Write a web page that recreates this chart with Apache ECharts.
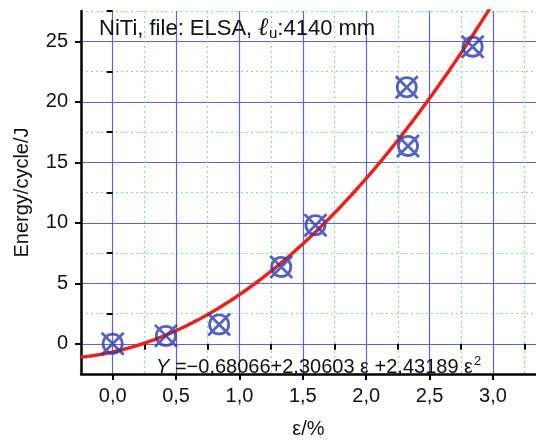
<!DOCTYPE html>
<html>
<head>
<meta charset="utf-8">
<script src="https://cdn.jsdelivr.net/npm/echarts@6/dist/echarts.min.js"></script>
<style>
  html, body { margin: 0; padding: 0; background: #fff; }
  #chart { width: 536px; height: 444px; }
</style>
</head>
<body>
<div id="chart"></div>
<script>
// Measured points: strain (%) and dissipated energy per cycle (J)
const strain = [0.0, 0.42, 0.84, 1.33, 1.60, 2.32, 2.33, 2.84];
const energy = [0.0, 0.65, 1.6, 6.35, 9.8, 21.2, 16.35, 24.55];

// Quadratic fit coefficients: Y = c0 + c1*e + c2*e^2
const fitCoef = [-0.68066, 2.30603, 2.43189];

// Axis ticks
const xMajor = [0, 0.5, 1.0, 1.5, 2.0, 2.5, 3.0];
const xMinor = [0.25, 0.75, 1.25, 1.75, 2.25, 2.75, 3.25];
const yMajor = [0, 5, 10, 15, 20, 25];
const yMinor = [2.5, 7.5, 12.5, 17.5, 22.5, 27.5];

const X_MIN = -0.25, X_MAX = 3.34, Y_MIN = -2.5, Y_MAX = 27.5;

// Fit curve sampled along the strain axis
const fitLine = [];
for (let i = 0; i <= 130; i++) {
  const e = X_MIN + i * 0.025;
  fitLine.push([e, fitCoef[0] + fitCoef[1] * e + fitCoef[2] * e * e]);
}

const FONT = '"Liberation Sans", Arial, sans-serif';
const BLUE = '#2b3bae';
const decComma = v => v.toFixed(1).replace('.', ',');

// Circle with a cross through it
const crossCircle = 'path://M0,-10A10,10,0,1,1,0,10A10,10,0,1,1,0,-10Z' +
  'M-11.5,-11.5L11.5,11.5M11.5,-11.5L-11.5,11.5';

const chart = echarts.init(document.getElementById('chart'), null, { renderer: 'canvas' });

chart.setOption({
  animation: false,
  backgroundColor: '#ffffff',
  grid: { left: 81, right: 0, top: 11, bottom: 65, containLabel: false },
  title: [
    {
      left: 94, top: 11,
      text: 'NiTi, file: ELSA, {l|ℓ}{s|u}:4140 mm',
      textStyle: {
        fontFamily: FONT, fontSize: 22, fontWeight: 'normal', color: '#111',
        rich: {
          l: { fontFamily: '"DejaVu Serif", serif', fontStyle: 'italic', fontWeight: 'bold', fontSize: 25, color: '#111' },
          s: { fontFamily: FONT, fontSize: 15, color: '#111', verticalAlign: 'bottom', padding: [9, 0, 0, 0] }
        }
      }
    },
    {
      left: 151, top: 350,
      text: '{i|Y} =−0,68066+2,30603 ε +2,43189 ε{p|2}',
      textStyle: {
        fontFamily: FONT, fontSize: 20, fontWeight: 'normal', color: '#111',
        rich: {
          i: { fontFamily: FONT, fontStyle: 'italic', fontSize: 20, color: '#111' },
          p: { fontFamily: FONT, fontSize: 13, color: '#111', verticalAlign: 'top', padding: [0, 0, 11, 1] }
        }
      }
    }
  ],
  xAxis: [
    {
      type: 'value', position: 'bottom', min: X_MIN, max: X_MAX,
      name: 'ε/%', nameLocation: 'middle', nameGap: 45,
      nameTextStyle: { fontFamily: FONT, fontSize: 20, color: '#111' },
      axisLine: { show: true, onZero: false, lineStyle: { color: '#000', width: 2.5 } },
      axisTick: { show: true, inside: false, length: 6, customValues: xMajor, lineStyle: { color: '#000', width: 2 } },
      axisLabel: { customValues: xMajor, formatter: decComma, margin: 12, fontFamily: FONT, fontSize: 20, color: '#111' },
      splitLine: { show: true, lineStyle: { color: '#5f63d8', width: 1.2, type: 'solid' } }
    },
    {
      type: 'value', position: 'bottom', min: X_MIN, max: X_MAX,
      axisLine: { show: false },
      axisTick: { show: true, inside: false, length: 6, customValues: xMinor, lineStyle: { color: '#000', width: 2 } },
      axisLabel: { show: false },
      splitLine: { show: true, lineStyle: { color: '#8ddf8d', width: 1.2, type: [2, 3] } }
    }
  ],
  yAxis: [
    {
      type: 'value', position: 'left', min: Y_MIN, max: Y_MAX,
      name: 'Energy/cycle/J', nameLocation: 'middle', nameGap: 49, nameRotate: 90,
      nameTextStyle: { fontFamily: FONT, fontSize: 20, color: '#111' },
      axisLine: { show: true, onZero: false, lineStyle: { color: '#000', width: 2.5 } },
      axisTick: { show: true, inside: false, length: 6, customValues: yMajor, lineStyle: { color: '#000', width: 2 } },
      axisLabel: { customValues: yMajor, margin: 13, fontFamily: FONT, fontSize: 20, color: '#111' },
      splitLine: { show: true, lineStyle: { color: '#5f63d8', width: 1.2, type: 'solid' } }
    },
    {
      type: 'value', position: 'left', min: Y_MIN, max: Y_MAX,
      axisLine: { show: false },
      axisTick: { show: true, inside: false, length: 6, customValues: yMinor, lineStyle: { color: '#000', width: 2 } },
      axisLabel: { show: false },
      splitLine: { show: true, lineStyle: { color: '#8ddf8d', width: 1.2, type: [2, 3] } }
    }
  ],
  series: [
    {
      type: 'line', xAxisIndex: 0, yAxisIndex: 0,
      data: fitLine, showSymbol: false, smooth: false, clip: true,
      lineStyle: { color: '#e8231c', width: 3.5 }, z: 3
    },
    {
      type: 'scatter', xAxisIndex: 0, yAxisIndex: 0,
      data: strain.map((e, i) => [e, energy[i]]),
      symbol: crossCircle, symbolSize: 22,
      itemStyle: { color: 'rgba(0,0,0,0)', borderColor: BLUE, borderWidth: 2.8 },
      z: 4
    }
  ]
});
</script>
</body>
</html>
